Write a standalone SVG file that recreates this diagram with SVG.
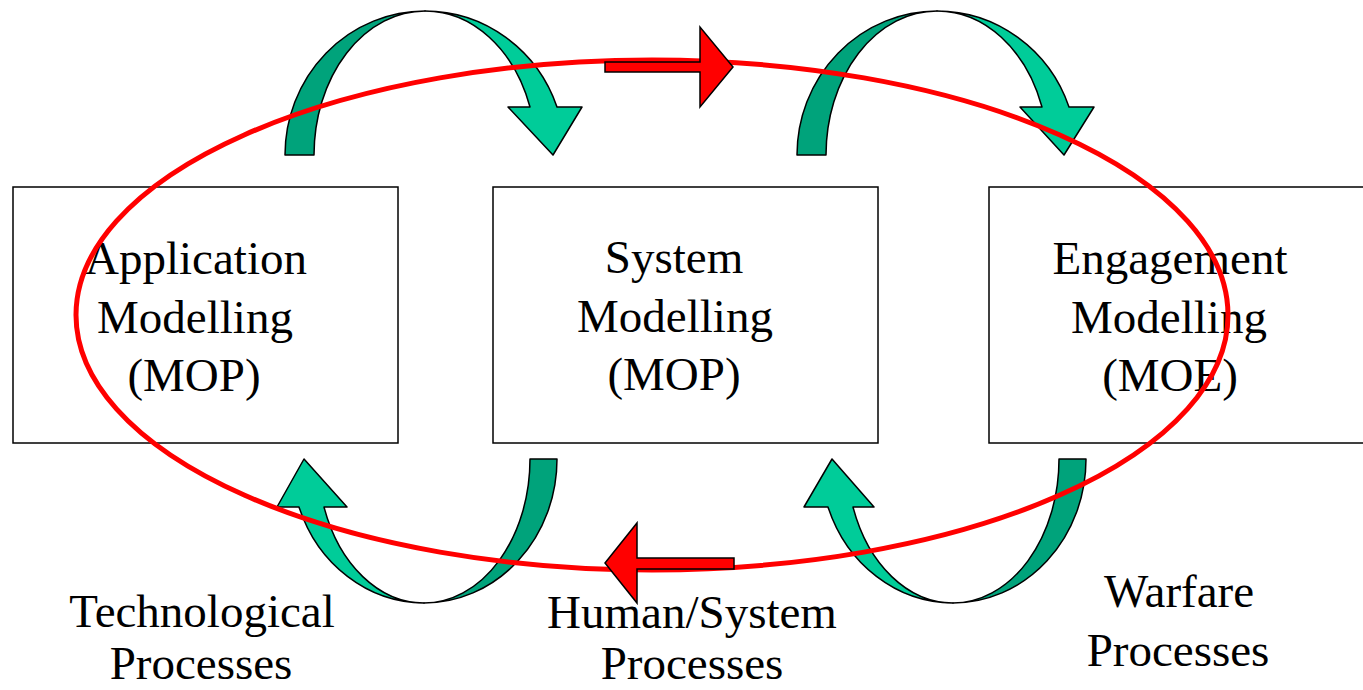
<svg xmlns="http://www.w3.org/2000/svg" width="1363" height="690" viewBox="0 0 1363 690">
<style>
.box{fill:#ffffff;stroke:#000000;stroke-width:1.5}
.t{font-family:"Liberation Serif","Times New Roman",serif;font-size:47px;fill:#000000;text-anchor:middle}
.dk{fill:#00A37B;stroke:#000000;stroke-width:1.5;stroke-linejoin:round}
.lt{fill:#00CC99;stroke:#000000;stroke-width:1.5;stroke-linejoin:round}
.red{fill:#FF0000;stroke:#000000;stroke-width:1.5;stroke-linejoin:miter}
.ring{fill:none;stroke:#FF0000;stroke-width:5}
</style>
<rect width="1363" height="690" fill="#ffffff"/>
<g id="node-application">
<rect class="box" x="13" y="187" width="385" height="256"/>
<text class="t" x="196" y="274">Application</text>
<text class="t" x="195" y="333">Modelling</text>
<text class="t" x="194" y="391">(MOP)</text>
</g>
<g id="node-system">
<rect class="box" x="493" y="187" width="385" height="256"/>
<text class="t" x="674" y="273">System</text>
<text class="t" x="675" y="332">Modelling</text>
<text class="t" x="674" y="390">(MOP)</text>
</g>
<g id="node-engagement">
<rect class="box" x="989" y="187" width="385" height="256"/>
<text class="t" x="1170" y="274">Engagement</text>
<text class="t" x="1169" y="333">Modelling</text>
<text class="t" x="1170" y="391">(MOE)</text>
</g>
<g id="label-technological">
<text class="t" x="202" y="627">Technological</text>
<text class="t" x="201" y="679">Processes</text>
</g>
<g id="label-human-system">
<text class="t" x="692" y="628">Human/System</text>
<text class="t" x="692" y="679">Processes</text>
</g>
<g id="label-warfare">
<text class="t" x="1179" y="607">Warfare</text>
<text class="t" x="1178" y="666">Processes</text>
</g>
<g id="connectors">
<g id="curved-top-left">
<path class="dk" d="M285,155 A140,144 0 0 1 425,11 A111,144 0 0 0 314,155 Z"/>
<path class="lt" d="M425,11 A140,144 0 0 1 557,107 L582,107 L553,155 L508,107 L530,107 A111,144 0 0 0 425,11 Z"/>
</g>
<g id="curved-top-right">
<path class="dk" d="M797,155 A140,144 0 0 1 937,11 A111,144 0 0 0 826,155 Z"/>
<path class="lt" d="M937,11 A140,144 0 0 1 1069,107 L1094,107 L1064,155 L1020,107 L1042,107 A111,144 0 0 0 937,11 Z"/>
</g>
<g id="curved-bottom-left">
<path class="dk" d="M557,459 A133,144 0 0 1 424,603 A106,144 0 0 0 530,459 Z"/>
<path class="lt" d="M424,603 A133,144 0 0 1 299,507 L277,507 L304,459 L347,507 L324,507 A106,144 0 0 0 424,603 Z"/>
</g>
<g id="curved-bottom-right">
<path class="dk" d="M1086,459 A133,144 0 0 1 953,603 A106,144 0 0 0 1059,459 Z"/>
<path class="lt" d="M953,603 A133,144 0 0 1 828,507 L804,507 L832,459 L874,507 L853,507 A106,144 0 0 0 953,603 Z"/>
</g>
<ellipse id="cycle" class="ring" cx="652" cy="315" rx="576" ry="255"/>
<path id="red-right" class="red" d="M605,62 L700,62 L700,27 L733,67 L700,107 L700,72 L605,72 Z"/>
<path id="red-left" class="red" d="M605,563 L637,523 L637,558 L734,558 L734,569 L637,569 L637,603 Z"/>
</g>
</svg>
